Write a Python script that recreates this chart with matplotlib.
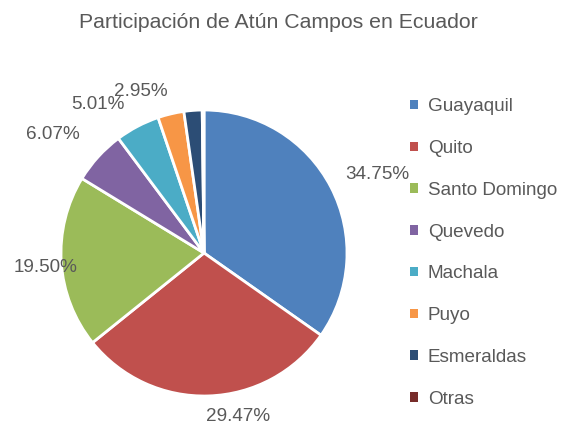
import matplotlib
matplotlib.use("Agg")
import matplotlib.pyplot as plt
from matplotlib.patches import Patch
import numpy as np

categories = ["Guayaquil", "Quito", "Santo Domingo", "Quevedo", "Machala", "Puyo", "Esmeraldas", "Otras"]
values = [34.75, 29.47, 19.50, 6.07, 5.01, 2.95, 2.05, 0.20]
shown_labels = ["34.75%", "29.47%", "19.50%", "6.07%", "5.01%", "2.95%", None, None]
colors = ["#4F81BD", "#C0504D", "#9BBB59", "#8064A2", "#4BACC6", "#F79646", "#2C4D75", "#772C2A"]
title = "Participación de Atún Campos en Ecuador"

# label anchor positions relative to pie centre (radius = 1)
label_pos = [(1.21, 0.55), (0.24, -1.14), (-1.11, -0.10), (-1.06, 0.83), (-0.74, 1.04), (-0.44, 1.13), None, None]

W, H = 563, 428
fig = plt.figure(figsize=(W / 100, H / 100), dpi=100)
plt.rcParams['font.family'] = ['Liberation Sans', 'DejaVu Sans']
txt_color = "#595959"

cx, cy, R = 204, 253, 143
half = 1.5 * R
ax = fig.add_axes([(cx - half) / W, (H - cy - half) / H, 2 * half / W, 2 * half / H])

wedges, _ = ax.pie(values, colors=colors, startangle=90, counterclock=False, radius=1,
                   wedgeprops=dict(edgecolor="white", linewidth=2))
ax.set_xlim(-1.5, 1.5)
ax.set_ylim(-1.5, 1.5)
ax.axis("off")

for lab, pos in zip(shown_labels, label_pos):
    if lab is None:
        continue
    ax.text(pos[0], pos[1], lab, ha="center", va="center", fontsize=13.6, color=txt_color)

fig.text(278 / W, 1 - 22 / H, title, ha="center", va="center", fontsize=15.3, color=txt_color)

handles = [Patch(facecolor=c, edgecolor="none") for c in colors]
leg = fig.legend(handles, categories, loc="center left", bbox_to_anchor=(410 / W, 1 - 253 / H),
                 bbox_transform=fig.transFigure, frameon=False, fontsize=13.6,
                 handlelength=0.4, handleheight=0.4, handletextpad=0.55, labelspacing=1.31,
                 borderpad=0, borderaxespad=0)
for t in leg.get_texts():
    t.set_color(txt_color)

fig.savefig("out.png", dpi=100)
